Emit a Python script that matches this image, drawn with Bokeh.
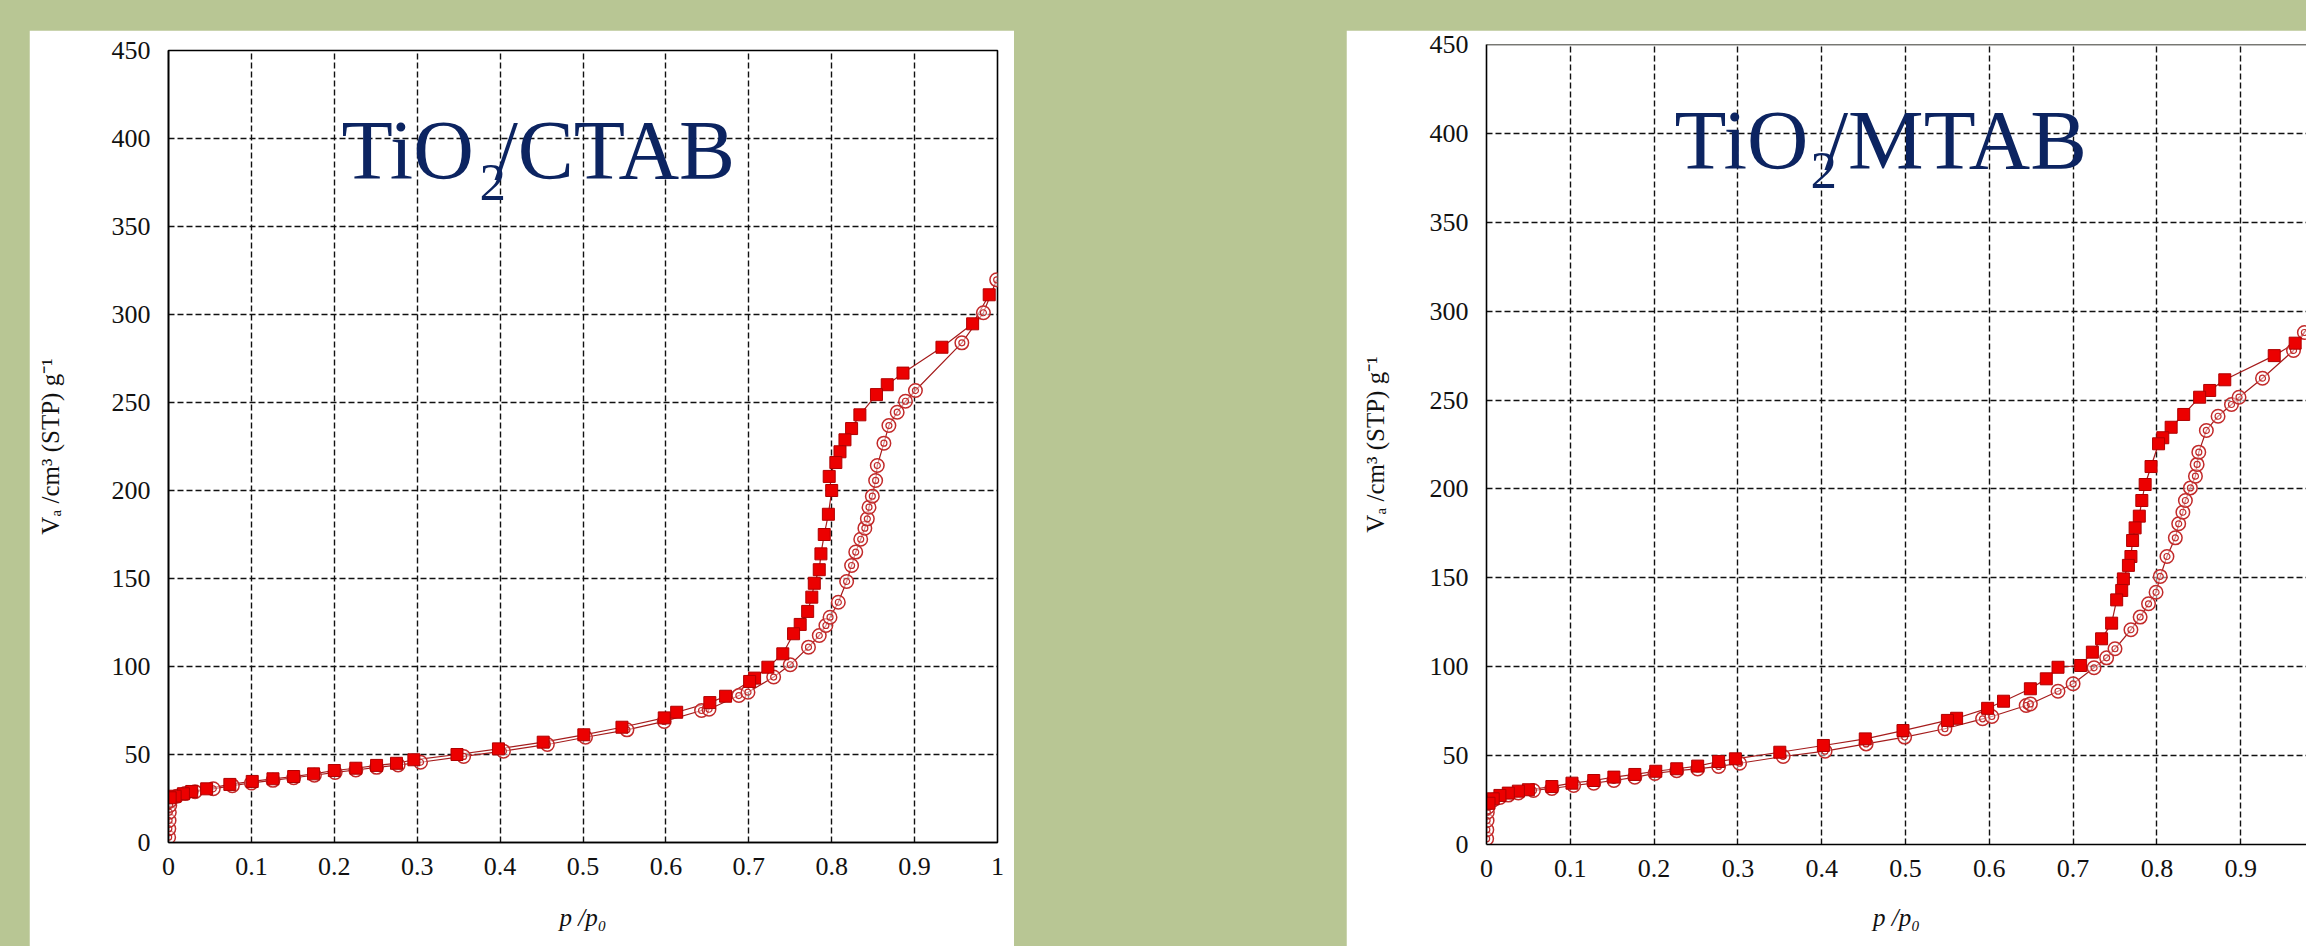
from bokeh.plotting import figure
from bokeh.layouts import row, column
from bokeh.models import Range1d, FixedTicker, Label, Span, Spacer, GlobalInlineStyleSheet
from bokeh.embed import file_html
from bokeh.resources import INLINE

# ---------------- data ----------------
x_ticks = [0, 0.1, 0.2, 0.3, 0.4, 0.5, 0.6, 0.7, 0.8, 0.9, 1]
x_tick_labels = ["0", "0.1", "0.2", "0.3", "0.4", "0.5", "0.6", "0.7", "0.8", "0.9", "1"]
y_ticks = [0, 50, 100, 150, 200, 250, 300, 350, 400, 450]

ctab_ads_p = [0.0002, 0.0004, 0.0007, 0.0010, 0.0015, 0.0025, 0.010, 0.020, 0.032, 0.054,
              0.077, 0.100, 0.126, 0.151, 0.176, 0.201, 0.226, 0.251, 0.277, 0.304,
              0.356, 0.404, 0.457, 0.503, 0.553, 0.598, 0.643, 0.652, 0.688, 0.699,
              0.730, 0.750, 0.772, 0.785, 0.793, 0.798, 0.808, 0.818, 0.824, 0.829,
              0.835, 0.840, 0.843, 0.845, 0.849, 0.853, 0.855, 0.863, 0.869, 0.879,
              0.889, 0.901, 0.957, 0.983, 0.999]
ctab_ads_v = [3.0, 7.8, 12.5, 17.2, 21.0, 23.9, 26.3, 27.8, 28.9, 30.5,
              32.3, 33.8, 35.3, 36.8, 38.2, 39.8, 41.2, 42.7, 44.0, 45.6,
              48.9, 51.9, 55.7, 59.8, 64.0, 68.8, 75.0, 75.7, 83.5, 85.4,
              94.0, 101.0, 111.0, 117.6, 123.3, 128.0, 136.5, 148.3, 157.4, 165.0,
              172.3, 178.6, 183.9, 190.5, 196.8, 205.7, 214.2, 226.9, 236.9, 244.5,
              250.7, 256.8, 283.9, 301.0, 319.7]

ctab_des_p = [0.990, 0.970, 0.933, 0.886, 0.867, 0.854, 0.834, 0.824, 0.816, 0.810,
              0.805, 0.797, 0.800, 0.796, 0.791, 0.787, 0.785, 0.779, 0.776, 0.771,
              0.762, 0.754, 0.741, 0.723, 0.707, 0.701, 0.672, 0.653, 0.613, 0.598,
              0.547, 0.501, 0.452, 0.398, 0.348, 0.296, 0.275, 0.251, 0.226, 0.200,
              0.175, 0.151, 0.126, 0.101, 0.074, 0.046, 0.028, 0.018, 0.008, 0.002]
ctab_des_v = [311.2, 294.7, 281.4, 266.7, 260.1, 254.5, 243.0, 235.2, 228.8, 222.0,
              215.9, 208.0, 200.0, 186.5, 175.0, 164.0, 155.0, 147.3, 139.4, 131.3,
              123.9, 118.6, 107.2, 99.6, 93.4, 91.5, 83.1, 79.5, 74.0, 70.8,
              65.5, 61.2, 57.0, 53.2, 50.0, 47.0, 45.0, 43.8, 42.2, 40.9,
              39.0, 37.5, 36.2, 34.7, 33.0, 30.5, 29.0, 27.7, 26.3, 25.4]

mtab_ads_p = [0.0002, 0.0004, 0.0007, 0.0010, 0.0015, 0.003, 0.008, 0.016, 0.026, 0.038,
              0.056, 0.078, 0.104, 0.128, 0.152, 0.177, 0.201, 0.227, 0.252, 0.277,
              0.302, 0.354, 0.404, 0.453, 0.499, 0.547, 0.592, 0.603, 0.644, 0.649,
              0.682, 0.700, 0.725, 0.740, 0.750, 0.769, 0.780, 0.790, 0.799, 0.804,
              0.812, 0.822, 0.826, 0.831, 0.834, 0.840, 0.846, 0.848, 0.850, 0.859,
              0.873, 0.889, 0.898, 0.926, 0.963, 0.976, 0.993]
mtab_ads_v = [3.2, 8.3, 13.5, 18.2, 21.0, 23.5, 25.0, 26.5, 27.8, 29.0,
              30.4, 31.5, 33.2, 34.5, 36.0, 37.8, 40.0, 41.5, 42.5, 43.9,
              45.7, 49.5, 52.5, 56.6, 60.4, 65.1, 70.7, 72.0, 78.2, 79.1,
              86.2, 90.4, 99.4, 105.0, 110.1, 120.8, 127.9, 135.4, 141.9, 150.8,
              162.0, 172.5, 180.4, 186.9, 193.5, 200.6, 207.2, 213.8, 220.7, 232.9,
              240.9, 247.5, 251.6, 262.3, 277.9, 288.0, 300.0]

mtab_des_p = [0.990, 0.965, 0.940, 0.881, 0.863, 0.851, 0.832, 0.817, 0.807, 0.802,
              0.793, 0.786, 0.782, 0.779, 0.774, 0.771, 0.769, 0.766, 0.760, 0.758,
              0.752, 0.746, 0.734, 0.723, 0.709, 0.682, 0.668, 0.649, 0.617, 0.598,
              0.561, 0.550, 0.497, 0.452, 0.402, 0.350, 0.297, 0.277, 0.252, 0.227,
              0.202, 0.177, 0.152, 0.128, 0.102, 0.078, 0.050, 0.038, 0.026, 0.016,
              0.008, 0.003]
mtab_des_v = [296.0, 282.0, 275.0, 261.4, 255.4, 251.6, 241.9, 234.7, 228.8, 225.4,
              212.6, 202.5, 193.5, 184.7, 178.1, 171.0, 162.0, 157.0, 149.4, 142.9,
              137.6, 124.5, 115.7, 108.2, 100.7, 99.7, 93.2, 87.6, 80.6, 76.6,
              71.0, 69.8, 64.1, 59.4, 55.7, 51.9, 48.2, 46.7, 44.1, 42.6,
              41.2, 39.4, 37.9, 36.0, 34.5, 32.6, 30.8, 30.0, 28.9, 27.6,
              25.7, 23.2]

# ---------------- style ----------------
PAGE_BG = "#b8c694"
SERIF = "Liberation Serif"
NAVY = "#0c2461"
LINE_RED = "#a51c1c"
SQ_FILL = "#ec0000"
SQ_LINE = "#b00000"
CIRC = "#c22a2a"


def make_panel(width, height, bl, bt, br, bb, x_end, ylab_standoff, xlab_standoff, full_outline):
    p = figure(width=width, height=height,
               x_range=Range1d(0, x_end), y_range=Range1d(0, 450),
               output_backend="svg", toolbar_location=None,
               min_border_left=bl, min_border_top=bt,
               min_border_right=br, min_border_bottom=bb)
    p.background_fill_color = "white"
    p.border_fill_color = "white"
    p.outline_line_color = "black" if full_outline else None
    p.outline_line_width = 1.6

    for ax in (p.xaxis[0], p.yaxis[0]):
        ax.axis_line_color = "black"
        ax.axis_line_width = 1.6
        ax.major_tick_line_color = None
        ax.minor_tick_line_color = None
        ax.major_tick_in = 0
        ax.major_tick_out = 0
        ax.minor_tick_in = 0
        ax.minor_tick_out = 0
        ax.major_label_text_font = SERIF
        ax.major_label_text_font_size = "26px"
        ax.major_label_text_color = "#111111"
        ax.axis_label_text_font = SERIF
        ax.axis_label_text_font_size = "25px"
        ax.axis_label_text_color = "#111111"

    p.xaxis.ticker = FixedTicker(ticks=x_ticks)
    p.xaxis.major_label_overrides = dict(zip(x_ticks, x_tick_labels))
    p.xaxis.major_label_standoff = 15
    p.xaxis.axis_label = "p /p₀"
    p.xaxis.axis_label_text_font_style = "italic"
    p.xaxis.axis_label_standoff = xlab_standoff

    p.yaxis.ticker = FixedTicker(ticks=y_ticks)
    p.yaxis.major_label_standoff = 18
    p.yaxis.axis_label = "Vₐ /cm³ (STP) g⁻¹"
    p.yaxis.axis_label_text_font_style = "normal"
    p.yaxis.axis_label_standoff = ylab_standoff

    for g in (p.xgrid[0], p.ygrid[0]):
        g.grid_line_color = "#111111"
        g.grid_line_dash = "6 3"
        g.grid_line_width = 1.4
    p.xgrid.ticker = FixedTicker(ticks=x_ticks)
    p.ygrid.ticker = FixedTicker(ticks=y_ticks)
    return p


def add_series(p, ads_p, ads_v, des_p, des_v):
    p.line(ads_p, ads_v, line_color=LINE_RED, line_width=1.2)
    p.line(des_p, des_v, line_color=LINE_RED, line_width=1.2)
    p.scatter(ads_p, ads_v, marker="circle", size=13.5, fill_color="white", fill_alpha=0.5,
              line_color=CIRC, line_width=1.5)
    p.scatter(ads_p, ads_v, marker="circle", size=6, fill_color=None,
              line_color=CIRC, line_width=1.2)
    p.scatter(des_p, des_v, marker="square", size=12, fill_color=SQ_FILL,
              line_color=SQ_LINE, line_width=1)


def add_title(p, name, size, x0, y0, x_sub, y_sub, x_rest):
    fs = "%dpx" % size
    p.add_layout(Label(x=x0, y=y0, x_units="screen", y_units="screen", text="TiO",
                       text_font=SERIF, text_font_size=fs, text_color=NAVY,
                       text_baseline="alphabetic", text_align="left"))
    p.add_layout(Label(x=x_sub, y=y_sub, x_units="screen", y_units="screen", text="2",
                       text_font=SERIF, text_font_size="53px", text_color=NAVY,
                       text_baseline="alphabetic", text_align="left"))
    p.add_layout(Label(x=x_rest, y=y0, x_units="screen", y_units="screen", text="/" + name,
                       text_font=SERIF, text_font_size=fs, text_color=NAVY,
                       text_baseline="alphabetic", text_align="left"))


# Left panel: TiO2/CTAB
p1 = make_panel(985, 916, 139, 20, 17, 104, 1, 45, 26, True)
add_series(p1, ctab_ads_p, ctab_ads_v, ctab_des_p, ctab_des_v)
add_title(p1, "CTAB", 84, 173, 692, 311, 660, 326)

# Right panel: TiO2/MTAB (cut at the window edge)
p2 = make_panel(960, 916, 140, 14, 0, 102, 820 / 838, 38, 24, False)
p2.add_layout(Span(location=450, dimension="width", line_color="black", line_width=1.6))
add_series(p2, mtab_ads_p, mtab_ads_v, mtab_des_p, mtab_des_v)
add_title(p2, "MTAB", 85, 188, 705, 324, 674, 338)

layout = row(
    Spacer(width=29, height=946),
    column(Spacer(width=985, height=30), p1),
    Spacer(width=332, height=946),
    column(Spacer(width=960, height=30), p2),
)
layout.stylesheets = [GlobalInlineStyleSheet(
    css="html, body { background-color: %s; overflow: hidden; }" % PAGE_BG)]

open("out.html", "w").write(file_html(layout, INLINE))
